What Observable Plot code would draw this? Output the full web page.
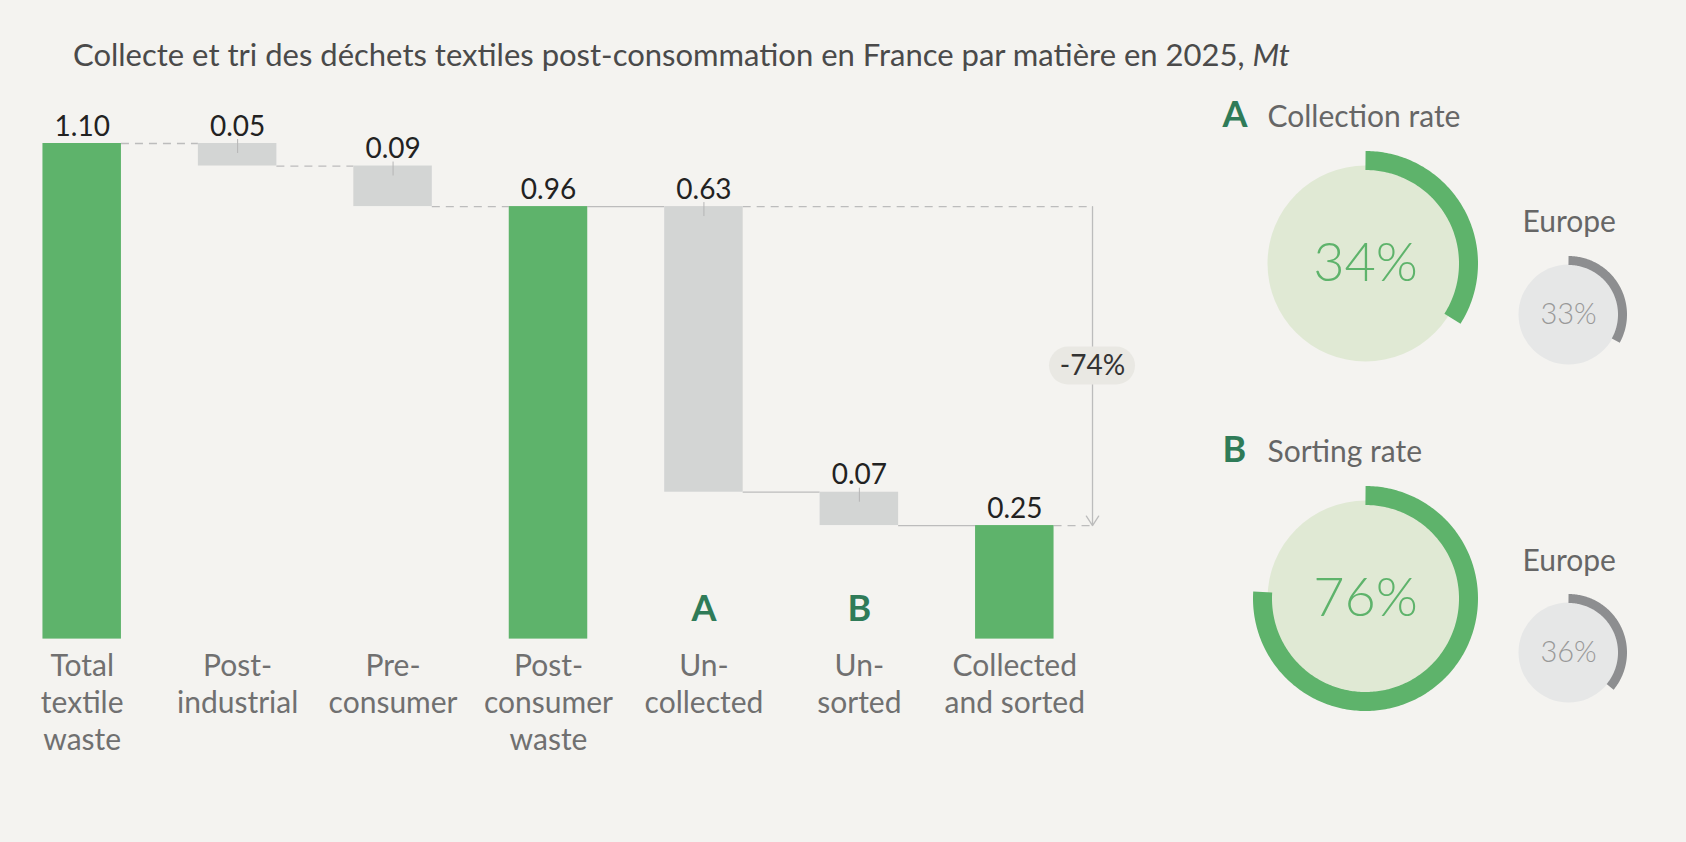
<!DOCTYPE html>
<html><head><meta charset="utf-8">
<script src="https://cdn.jsdelivr.net/npm/d3@7"></script>
<script src="https://cdn.jsdelivr.net/npm/@observablehq/plot@0.6"></script>
<style>
html,body{margin:0;padding:0;background:#f4f3f0;}
#wrap{position:relative;width:1686px;height:842px;overflow:hidden;font-family:Lato,sans-serif;}
#title{position:absolute;left:73px;top:39px;font-size:31px;color:#4a4a4a;white-space:nowrap;line-height:1;}
#waterfall{position:absolute;left:0;top:90px;}
#rates{position:absolute;left:1160px;top:0;}
svg{overflow:visible;}
</style></head><body>
<div id="wrap">
<div id="title">Collecte et tri des déchets textiles post-consommation en France par matière en 2025, <i>Mt</i></div>
<div id="waterfall"></div>
<div id="rates"></div>
</div>
<script>
// ---- data ----
const categories = ["Total\ntextile\nwaste", "Post-\nindustrial", "Pre-\nconsumer", "Post-\nconsumer\nwaste", "Un-\ncollected", "Un-\nsorted", "Collected\nand sorted"];
const values = [1.10, 0.05, 0.09, 0.96, 0.634, 0.074, 0.252];
const kinds = ["total", "step", "step", "total", "step", "step", "total"];
const valueLabels = ["1.10", "0.05", "0.09", "0.96", "0.63", "0.07", "0.25"];
const markers = ["", "", "", "", "A", "B", ""];

const rateKeys = ["A", "B"];
const rateNames = ["Collection rate", "Sorting rate"];
const franceRates = [0.34, 0.76];
const europeRates = [0.33, 0.36];
const europeLabel = "Europe";

// ---- colours ----
const GREEN = "#5eb36b", GRAY = "#d3d5d4", LINE = "#bcbcbc", DARKGREEN = "#2f7b58";

// ---- waterfall ----
let level = 0;
const rows = categories.map((cat, i) => {
  const v = values[i];
  let lo, hi;
  if (kinds[i] === "total") { lo = 0; hi = v; level = v; }
  else { hi = level; lo = level - v; level = lo; }
  return {i, cat, kind: kinds[i], lo, hi, level, label: valueLabels[i], marker: markers[i]};
});
const half = 0.2525;
const last = rows.length - 1;
const arrowX = last + 0.5;
const connectors = rows.slice(0, -1).map((r, k) => ({x1: r.i + half, x2: rows[k + 1].i - half, y: r.level, dashed: k < 3}));
const iPost = 3, iUn = 4;
const extensions = [
  {x1: rows[iUn].i + half, x2: arrowX, y: rows[iPost].level},
  {x1: rows[last].i + half, x2: arrowX, y: rows[last].hi}
];
const arrowData = [{x: arrowX, y1: rows[iPost].level, y2: rows[last].hi}];
const mid = (rows[iPost].level + rows[last].hi) / 2;
const changeText = Math.round((values[last] / values[iPost] - 1) * 100) + "%";
const pill = [{x: arrowX, y: mid, t: changeText}];

const wf = Plot.plot({
  width: 1160, height: 752, margin: 0,
  x: {type: "linear", domain: [0, 6], range: [81.7, 1014.3], axis: null},
  y: {domain: [0, 1.1], range: [548.6, 53], axis: null},
  style: {background: "transparent", fontFamily: "Lato, sans-serif", overflow: "visible"},
  marks: [
    Plot.ruleY(connectors.filter(d => d.dashed).concat(extensions), {x1: "x1", x2: "x2", y: "y", stroke: LINE, strokeWidth: 1.3, strokeDasharray: "8,6"}),
    Plot.ruleY(connectors.filter(d => !d.dashed), {x1: "x1", x2: "x2", y: "y", stroke: LINE, strokeWidth: 1.3}),
    Plot.arrow(arrowData, {x1: "x", x2: "x", y1: "y1", y2: "y2", stroke: LINE, strokeWidth: 1.3, headLength: 13, headAngle: 66}),
    Plot.rect(pill, {x1: "x", x2: "x", y1: "y", y2: "y", insetLeft: -43, insetRight: -43, insetTop: -19, insetBottom: -19, rx: 19, fill: "#e9e8e3"}),
    Plot.text(pill, {x: "x", y: "y", text: "t", fontSize: 28, fill: "#333"}),
    Plot.rect(rows.filter(d => d.kind === "total"), {x1: d => d.i - half, x2: d => d.i + half, y1: "lo", y2: "hi", fill: GREEN}),
    Plot.rect(rows.filter(d => d.kind === "step"), {x1: d => d.i - half, x2: d => d.i + half, y1: "lo", y2: "hi", fill: GRAY}),
    Plot.ruleX(rows.filter(d => d.kind === "step"), {x: "i", y1: "hi", y2: "hi", stroke: "#b5b5b5", strokeWidth: 1, insetTop: -4, insetBottom: -10}),
    Plot.text(rows, {x: "i", y: "hi", text: "label", dy: -8, lineAnchor: "bottom", fontSize: 28, fill: "#222"}),
    Plot.text(rows, {x: "i", y: d => 0, text: "cat", lineAnchor: "top", dy: 11, fontSize: 30, lineHeight: 1.23, fill: "#707070"}),
    Plot.text(rows.filter(d => d.marker), {x: "i", y: d => 0, text: "marker", dy: -18, lineAnchor: "bottom", fontSize: 36, fontWeight: "bold", fill: DARKGREEN})
  ]
});
document.getElementById("waterfall").appendChild(wf);

// ---- rates (donuts) ----
const X0 = 1160, RW = 526, RH = 842, SEC = 335;
const sections = rateKeys.map((k, s) => ({
  key: k, name: rateNames[s], fr: franceRates[s], eu: europeRates[s],
  hx: 1222, tx: 1267, hy: 126 + s * SEC,
  bx: 1365, by: 263 + s * SEC,
  sx: 1568, sy: 314 + s * (SEC + 3),
  ey: 231 + s * (SEC + 4)
}));
function arcPoints(cx, cy, r, v, z) {
  const steps = Math.max(2, Math.ceil(360 * v));
  const pts = [];
  for (let j = 0; j <= steps; j++) {
    const a = 2 * Math.PI * v * j / steps;
    pts.push({x: cx + r * Math.sin(a), y: cy - r * Math.cos(a), z});
  }
  return pts;
}
const bigArcs = sections.flatMap(d => arcPoints(d.bx, d.by, 103, d.fr, d.key));
const smallArcs = sections.flatMap(d => arcPoints(d.sx, d.sy, 54, d.eu, d.key));
const fmt = d3.format(".0%");

const rp = Plot.plot({
  width: RW, height: RH, margin: 0,
  x: {domain: [X0, X0 + RW], range: [0, RW], axis: null},
  y: {domain: [0, RH], range: [0, RH], axis: null},
  style: {background: "transparent", fontFamily: "Lato, sans-serif", overflow: "visible"},
  marks: [
    Plot.dot(sections, {x: "bx", y: "by", r: 98, fill: "#e0e9d4", stroke: null}),
    Plot.dot(sections, {x: "sx", y: "sy", r: 50, fill: "#e6e7e7", stroke: null}),
    Plot.line(bigArcs, {x: "x", y: "y", z: "z", stroke: GREEN, strokeWidth: 19, strokeLinecap: "butt", curve: "linear"}),
    Plot.line(smallArcs, {x: "x", y: "y", z: "z", stroke: "#8d8e90", strokeWidth: 9, strokeLinecap: "butt", curve: "linear"}),
    Plot.text(sections, {x: "hx", y: "hy", text: "key", textAnchor: "start", lineAnchor: "bottom", fontSize: 36, fontWeight: "bold", fill: DARKGREEN}),
    Plot.text(sections, {x: "tx", y: "hy", text: "name", textAnchor: "start", lineAnchor: "bottom", fontSize: 30, fill: "#666"}),
    Plot.text(sections, {x: "bx", y: "by", text: d => fmt(d.fr), lineAnchor: "middle", fontSize: 54, fontWeight: 300, fill: GREEN}),
    Plot.text(sections, {x: d => 1522, y: "ey", text: d => europeLabel, textAnchor: "start", lineAnchor: "bottom", fontSize: 30, fill: "#666"}),
    Plot.text(sections, {x: "sx", y: "sy", text: d => fmt(d.eu), lineAnchor: "middle", fontSize: 29, fontWeight: 300, fill: "#999"})
  ]
});
document.getElementById("rates").appendChild(rp);
</script>
</body></html>
